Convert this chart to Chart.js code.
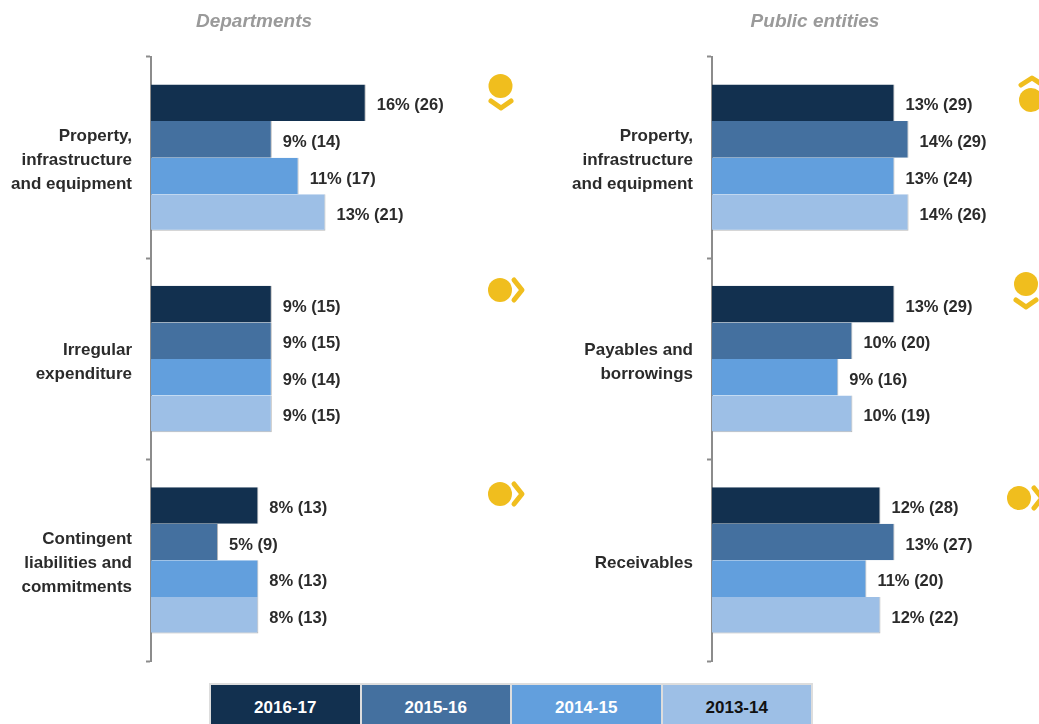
<!DOCTYPE html>
<html>
<head>
<meta charset="utf-8">
<title>Departments and public entities</title>
<script src="https://cdn.jsdelivr.net/npm/chart.js@4/dist/chart.umd.min.js"></script>
<style>
  html, body { margin: 0; background: #fff; }
  body { position: relative; width: 1039px; height: 724px; overflow: hidden; font-family: "Liberation Sans", sans-serif; }
  canvas { position: absolute; top: 0; }
  #chartDept { left: 0; }
  #chartPub { left: 560px; }
  .icon { position: absolute; left: 0; top: 0; }
  #legend { position: absolute; left: 209px; top: 683px; width: 600px; height: 50px; display: flex; gap: 2px;
    border: 2px solid #ddd; background: #ddd; }
  #legend div { flex: 1; text-align: center; font: bold 17px/46px "Liberation Sans", sans-serif; }
</style>
</head>
<body>
<canvas id="chartDept" width="508" height="710"></canvas>
<canvas id="chartPub" width="510" height="710"></canvas>
<div id="legend"></div>
<svg class="icon" width="1039" height="724" id="icons"></svg>

<script>
const periods = ['2016-17', '2015-16', '2014-15', '2013-14'];
const periodColors = ['#12304F', '#44709F', '#629FDD', '#9DBFE6'];
const legendText = ['#fff', '#fff', '#fff', '#111'];

const deptLabels = [['Property,', 'infrastructure', 'and equipment'], ['Irregular', 'expenditure'], ['Contingent', 'liabilities and', 'commitments']];
const deptPct1617 = [16, 9, 8];
const deptPct1516 = [9, 9, 5];
const deptPct1415 = [11, 9, 8];
const deptPct1314 = [13, 9, 8];
const deptNum1617 = [26, 15, 13];
const deptNum1516 = [14, 15, 9];
const deptNum1415 = [17, 14, 13];
const deptNum1314 = [21, 15, 13];

const pubLabels = [['Property,', 'infrastructure', 'and equipment'], ['Payables and', 'borrowings'], ['Receivables']];
const pubPct1617 = [13, 13, 12];
const pubPct1516 = [14, 10, 13];
const pubPct1415 = [13, 9, 11];
const pubPct1314 = [14, 10, 12];
const pubNum1617 = [29, 29, 28];
const pubNum1516 = [29, 20, 27];
const pubNum1415 = [24, 16, 20];
const pubNum1314 = [26, 19, 22];

// draws "16% (26)" after each bar
const barText = {
  id: 'barText',
  afterDatasetsDraw(chart) {
    const c = chart.ctx;
    c.save();
    c.font = 'bold 16.5px "Liberation Sans", sans-serif';
    c.fillStyle = '#2b2b2b';
    c.textBaseline = 'middle';
    chart.data.datasets.forEach((ds, i) => {
      chart.getDatasetMeta(i).data.forEach((bar, j) => {
        c.fillText(ds.data[j] + '% (' + ds.counts[j] + ')', bar.x + 11, bar.y + 3);
      });
    });
    c.restore();
  }
};

function makeDatasets(pcts, nums) {
  return periods.map((p, i) => ({
    label: p,
    data: pcts[i],
    counts: nums[i],
    backgroundColor: periodColors[i],
    borderColor: 'rgba(110,110,110,0.5)',
    borderWidth: i === 3 ? { right: 1, bottom: 1 } : { right: 1 },
    borderSkipped: false,
    barPercentage: 1,
    categoryPercentage: 0.727
  }));
}

// nudges the category labels down a little, the library has no option for it
function shiftLabels(scale) {
  if (scale.labelsShifted) return;
  scale.labelsShifted = true;
  const draw = scale.drawLabels;
  scale.drawLabels = function (area) {
    scale.ctx.save();
    scale.ctx.translate(-1, 3);
    draw.call(scale, area);
    scale.ctx.restore();
  };
}

function makeChart(id, title, labels, datasets, axisWidth, xMax) {
  new Chart(document.getElementById(id), {
    type: 'bar',
    data: { labels: labels, datasets: datasets },
    plugins: [barText],
    options: {
      indexAxis: 'y',
      responsive: false,
      animation: false,
      layout: { padding: { top: 0, bottom: 7, left: 0, right: 0 } },
      scales: {
        x: { display: false, min: 0, max: xMax },
        y: {
          afterFit(scale) { scale.width = axisWidth; shiftLabels(scale); },
          border: { color: '#8c8c8c', width: 2 },
          grid: { drawOnChartArea: false, tickLength: 5, tickColor: '#8c8c8c', tickWidth: 2 },
          ticks: { color: '#2b2b2b', padding: 13, font: { family: '"Liberation Sans", sans-serif', size: 17, weight: 'bold', lineHeight: 24 / 17 } }
        }
      },
      plugins: {
        legend: { display: false },
        tooltip: { enabled: false },
        title: {
          display: true,
          text: title,
          color: '#9a9a9a',
          font: { family: '"Liberation Sans", sans-serif', size: 19, style: 'italic', weight: 'bold', lineHeight: 1 },
          padding: { top: 12, bottom: 26 }
        }
      }
    }
  });
}

makeChart('chartDept', 'Departments', deptLabels,
  makeDatasets([deptPct1617, deptPct1516, deptPct1415, deptPct1314], [deptNum1617, deptNum1516, deptNum1415, deptNum1314]), 151, 26.6);
makeChart('chartPub', 'Public entities', pubLabels,
  makeDatasets([pubPct1617, pubPct1516, pubPct1415, pubPct1314], [pubNum1617, pubNum1516, pubNum1415, pubNum1314]), 152, 25.5);

// legend strip
document.getElementById('legend').innerHTML = periods.map((p, i) =>
  '<div style="background:' + periodColors[i] + ';color:' + legendText[i] + '">' + p + '</div>').join('');

// trend markers: circle plus chevron
const dot = '#F0BE1E';
const trendMarks = [
  [500.5, 86, 12, 'M491 101 L501 108 L511 101'],
  [500, 290, 12, 'M514 280 L522 290 L514 300'],
  [500, 494, 12, 'M514 484 L522 494 L514 504'],
  [1031, 100, 12, 'M1021 85 L1032 78 L1043 85'],
  [1026, 284, 12, 'M1016 300 L1026 307 L1036 300'],
  [1019, 498, 12, 'M1034 488 L1042 498 L1034 508']
];
document.getElementById('icons').innerHTML = trendMarks.map(m =>
  '<circle cx="' + m[0] + '" cy="' + m[1] + '" r="' + m[2] + '" fill="' + dot + '"/>' +
  '<path d="' + m[3] + '" fill="none" stroke="' + dot + '" stroke-width="5" stroke-linecap="round" stroke-linejoin="round"/>').join('');
</script>
</body>
</html>
